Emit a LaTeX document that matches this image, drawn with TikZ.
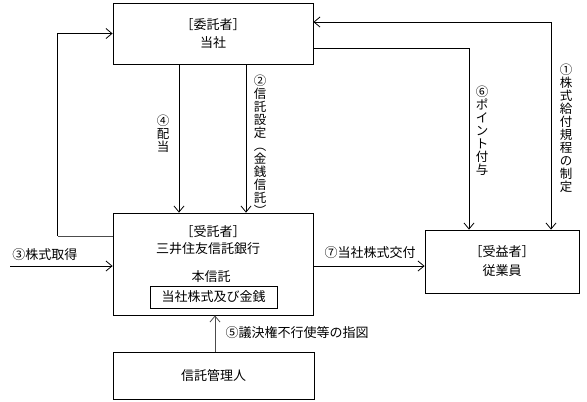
\documentclass[tikz,border=0pt]{standalone}
\usepackage{fontspec}
\setmainfont{Noto Sans CJK JP}
\usetikzlibrary{arrows.meta,calc}
\begin{document}
\begin{tikzpicture}[x=1pt,y=-1pt,
  box/.style={draw,line width=0.8pt,inner sep=0pt,align=center},
  txt/.style={inner sep=0pt,font=\fontsize{13}{18}\selectfont},
  vt/.style={inner sep=0pt,align=center,font=\fontsize{12.5}{13}\selectfont},
  ln/.style={line width=0.8pt},
  arr/.style={ln,-{Straight Barb[length=6pt,width=10pt]}},
  arrb/.style={ln,{Straight Barb[length=6pt,width=10pt]}-{Straight Barb[length=6pt,width=10pt]}}]
\useasboundingbox (0,0) rectangle (587,402);
\fill[white] (0,0) rectangle (587,402);
% boxes
\node[box,minimum width=200pt,minimum height=61pt,font=\fontsize{13}{18}\selectfont] (top) at (213,33.5) {［委託者］\\当社};
\node[box,minimum width=200pt,minimum height=102pt] (mid) at (213,264) {};
\node[box,minimum width=127pt,minimum height=22pt,font=\fontsize{13}{18}\selectfont] (inner) at (213.5,297) {当社株式及び金銭};
\node[box,minimum width=201pt,minimum height=47pt,font=\fontsize{13}{18}\selectfont] (bottom) at (213.5,375.5) {信託管理人};
\node[box,minimum width=154pt,minimum height=63pt,font=\fontsize{13}{19}\selectfont] (right) at (502,261.5) {［受益者］\\従業員};
% middle box texts
\node[txt] (m1) at (213,232) {［受託者］};
\node[txt] (m2) at (208,249) {三井住友信託銀行};
\node[txt] (m3) at (211,277) {本信託};
% connectors
\draw[ln,gray!60!black] ([yshift=28pt]mid.west) -- ++(-55,0) coordinate (lp);
\draw[arr] (lp) |- (top.west);
\draw[arr] (top.south -| 179,0) -- (mid.north -| 179,0);
\draw[arr] (top.south -| 246,0) -- (mid.north -| 246,0);
\coordinate (s3) at (10,266);
\draw[arr] (s3) -- (mid.west |- s3);
\draw[arr] (mid.east |- s3) -- (right.west |- s3);
\draw[arr,gray!60!black] (bottom.north -| 215,0) -- (mid.south -| 215,0);
\draw[arr] (top.east |- 0,48) -| (right.north -| 469,0);
\draw[arrb] (top.east |- 0,22) -| (right.north -| 551,0);
% labels
\node[vt] (l4) at (163,134) {④\\配\\当};
\node[vt] (l2) at (260,145) {②\\信\\託\\設\\定\\︵\\金\\銭\\信\\託\\︶};
\node[vt] (l6) at (482,131) {⑥\\ポ\\イ\\ン\\ト\\付\\与};
\node[vt] (l1) at (566,128) {①\\株\\式\\給\\付\\規\\程\\の\\制\\定};
\node[txt] (l3) at (45,255) {③株式取得};
\node[txt] (l7) at (370,253) {⑦当社株式交付};
\node[txt] (l5) at (297,333) {⑤議決権不行使等の指図};
\end{tikzpicture}
\end{document}
